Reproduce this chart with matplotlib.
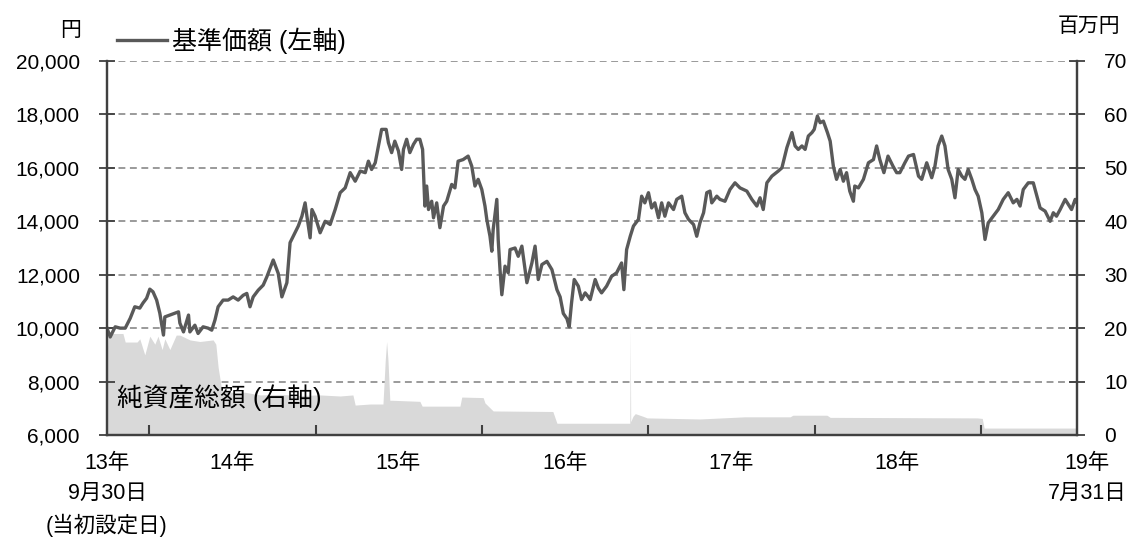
import matplotlib
matplotlib.use("Agg")
import matplotlib.pyplot as plt
import matplotlib.transforms as mtransforms
import pandas as pd
import numpy as np

plt.rcParams['font.family'] = ['Liberation Sans', 'Noto Sans CJK JP']

start_date = "2013-09-30"
end_date = "2019-07-31"

# NAV (基準価額): days since inception, yen
nav_days = [0,7,18,29,40,51,61,72,79,87,94,101,109,116,124,127,138,149,157,160,168,179,182,193,200,211,222,230,237,244,255,266,277,288,299,307,314,321,332,343,351,365,376,384,395,402,409,420,428,435,439,446,450,457,468,479,490,501,512,523,534,545,556,567,574,581,589,596,603,613,618,625,632,640,647,651,658,665,673,680,687,693,698,702,706,713,717,724,731,739,746,757,764,771,782,793,801,808,815,823,830,834,841,845,848,856,859,863,867,874,881,885,896,903,911,922,933,940,947,955,966,977,988,995,1002,1010,1015,1020,1026,1035,1042,1050,1057,1061,1072,1079,1086,1097,1108,1119,1130,1135,1141,1149,1156,1167,1174,1181,1189,1196,1203,1211,1218,1225,1233,1244,1251,1262,1269,1277,1288,1295,1302,1310,1317,1324,1328,1339,1346,1357,1368,1379,1390,1405,1416,1427,1434,1441,1449,1460,1474,1482,1493,1504,1511,1518,1526,1533,1540,1548,1553,1560,1566,1573,1582,1588,1595,1602,1610,1617,1624,1631,1639,1642,1650,1661,1672,1683,1690,1697,1706,1715,1726,1734,1741,1752,1760,1771,1782,1789,1800,1811,1818,1825,1833,1840,1847,1855,1862,1869,1877,1884,1891,1899,1906,1913,1921,1928,1935,1946,1957,1968,1979,1990,1998,2005,2012,2023,2034,2042,2049,2060,2071,2078,2085,2093,2104,2111,2118,2126,2130]
nav_values = [10000,9670,10050,10000,10000,10370,10800,10750,10940,11120,11460,11360,11050,10560,9740,10420,10490,10560,10610,10190,9860,10490,9860,10110,9800,10050,10000,9925,10300,10800,11050,11050,11170,11050,11230,11300,10800,11170,11420,11610,11920,12550,12050,11170,11700,13200,13440,13820,14190,14690,14190,13380,14440,14190,13570,14000,13880,14440,15070,15250,15820,15500,15880,15820,16250,15940,16190,16820,17440,17440,16940,16570,17000,16630,15940,16690,17070,16570,16880,17070,17070,16690,14570,15320,14440,14750,14130,14690,13760,14570,14750,15380,15250,16250,16310,16440,16060,15320,15570,15190,14570,14070,13440,12880,13690,14820,13320,12190,11250,12320,12070,12940,13000,12690,13070,11700,12440,13070,11820,12380,12500,12190,11440,11170,10550,10350,10050,10930,11820,11570,11070,11320,11170,11070,11820,11500,11320,11570,11940,12070,12440,11440,12940,13440,13820,14070,14940,14690,15070,14500,14690,14130,14690,14190,14690,14440,14820,14940,14320,14070,13880,13440,13940,14320,15070,15130,14690,14940,14820,14750,15190,15440,15250,15130,14820,14570,14880,14440,15440,15690,15880,16000,16760,17320,16820,16690,16820,16690,17190,17320,17440,17940,17690,17750,17320,17000,16060,15570,15940,15500,15820,15130,14750,15320,15250,15570,16190,16310,16820,16310,15820,16440,16060,15820,15820,16190,16440,16500,15690,15570,16190,15630,16060,16820,17190,16820,15940,15570,14880,15940,15690,15570,15940,15570,15190,14940,14320,13320,13940,14190,14440,14820,15070,14690,14820,14570,15190,15440,15440,14940,14500,14380,14000,14320,14190,14440,14820,14630,14440,14820,14700]

# Net assets (純資産総額): days since inception, million yen
na_days = [0,2,9,35,40,66,72,83,94,105,112,121,127,138,152,160,182,204,233,239,244,252,270,303,336,380,424,468,512,540,545,578,606,611,614,617,621,626,687,692,775,779,826,830,848,979,988,1142,1148,1149,1150,1155,1160,1177,1186,1302,1400,1500,1506,1581,1588,1911,1922,1926,2130]
na_values = [13,18.5,19,19,17.4,17.4,18,15,18.5,17,18.5,16,18,16,18.7,18.7,17.8,17.5,17.8,17,12.7,8.4,8,8,7.5,7.6,7.4,7.5,7.3,7.5,5.6,5.8,5.8,14,17.5,14,6.5,6.5,6.3,5.4,5.4,7.1,7.0,6,4.5,4.4,2.2,2.2,2.2,20,2.5,3.5,4.0,3.5,3.2,3.0,3.4,3.4,3.7,3.7,3.3,3.2,3.1,1.3,1.3]

left_ticks = [6000, 8000, 10000, 12000, 14000, 16000, 18000, 20000]
right_ticks = [0, 10, 20, 30, 40, 50, 60, 70]
year_bounds = ["2014-01-01", "2015-01-01", "2016-01-01", "2017-01-01", "2018-01-01", "2019-01-01"]
label_dates = ["2013-09-30", "2014-07-01", "2015-07-01", "2016-07-01", "2017-07-01", "2018-07-01", "2019-07-31"]
label_texts = ["13年\n9月30日\n(当初設定日)", "14年", "15年", "16年", "17年", "18年", "19年\n7月31日"]

t0 = pd.Timestamp(start_date)
nav_dates = t0 + pd.to_timedelta(nav_days, unit="D")
na_dates = t0 + pd.to_timedelta(na_days, unit="D")

fig = plt.figure(figsize=(11.32, 5.37), dpi=100)
ax = fig.add_axes([107/1132, 1-435/537, (1077-107)/1132, (435-61)/537])
ax2 = ax.twinx()
ax.set_zorder(ax2.get_zorder() + 1)
ax.patch.set_visible(False)

spine_c = "#404040"
# area on right axis
ax2.fill_between(na_dates, 0, na_values, color="#d9d9d9", lw=0, zorder=1)
ax2.set_ylim(0, 70)
ax2.set_yticks(right_ticks)
ax2.set_axisbelow(True)
ax2.grid(axis="y", color="#7f7f7f", lw=1.1, linestyle=(0, (4.5, 3.0)))

# NAV line
ln, = ax.plot(nav_dates, nav_values, color="#595959", lw=2.4, label="基準価額 (左軸)")
ax.set_ylim(6000, 20000)
ax.set_yticks(left_ticks)
ax.set_yticklabels([f"{v:,}" for v in left_ticks])
ax.set_xlim(t0, pd.Timestamp(end_date))

ax.set_xticks(pd.to_datetime(year_bounds))
ax.set_xticklabels([])
ax.set_xticks(pd.to_datetime(label_dates), minor=True)
ax.set_xticklabels(label_texts, minor=True)
ax.tick_params(axis="x", which="major", direction="in", length=7, width=1.5, color=spine_c)
ax.tick_params(axis="x", which="minor", length=0, pad=13, labelsize=15.5)
for lbl in ax.get_xticklabels(minor=True):
    lbl.set_linespacing(1.55)
last = ax.get_xticklabels(minor=True)[-1]
last.set_transform(last.get_transform() + mtransforms.ScaledTranslation(10/100, 0, fig.dpi_scale_trans))

ax.tick_params(axis="y", direction="inout", length=11, width=1.3, color=spine_c, labelsize=15, pad=14)
ax2.tick_params(axis="y", direction="inout", length=11, width=1.3, color=spine_c, labelsize=15, pad=14)
ax2.tick_params(axis="x", length=0)

for a in (ax, ax2):
    a.spines["top"].set_visible(False)
    for s in ("left", "right", "bottom"):
        a.spines[s].set_color(spine_c)
        a.spines[s].set_linewidth(1.6)

ax.legend(handles=[ln], loc="lower left", bbox_to_anchor=(0.005, 1.005), frameon=False,
          fontsize=18, handlelength=2.0, handletextpad=0.2, borderaxespad=0, borderpad=0.2)

ax.text(0.01, 0.1, "純資産総額 (右軸)", transform=ax.transAxes, fontsize=18.5, ha="left", va="center")
fig.text(71/1132, 1-30/537, "円", fontsize=15, ha="center", va="center")
fig.text(1089/1132, 1-27/537, "百万円", fontsize=15, ha="center", va="center")

fig.savefig("out.png", dpi=100)
